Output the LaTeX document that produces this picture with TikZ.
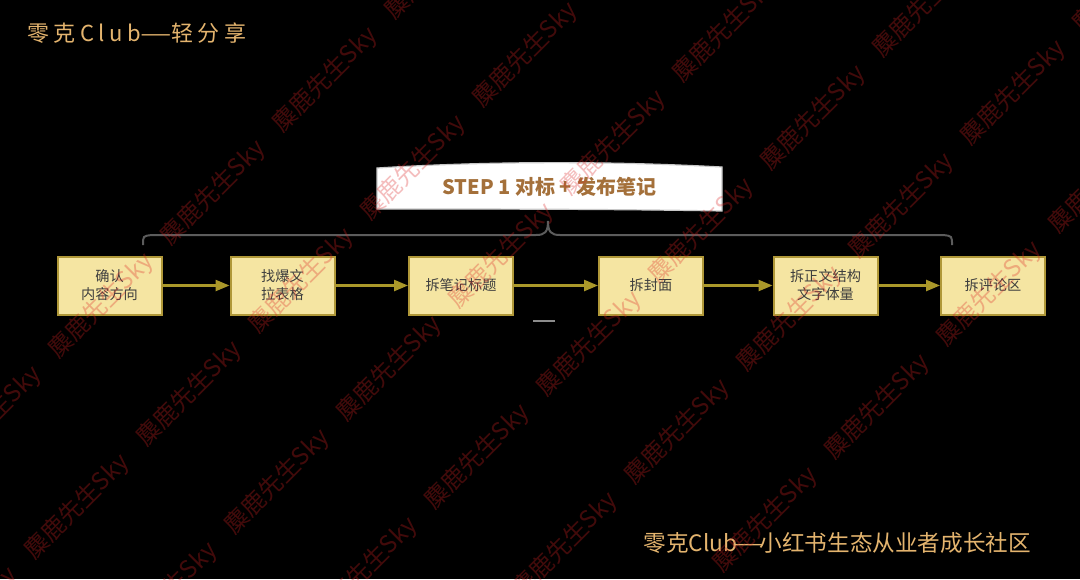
\documentclass[tikz,border=0pt]{standalone}
\usepackage{fontspec}
\setmainfont{Noto Sans CJK SC}
\newfontfamily\cjk{Noto Sans CJK SC}
\newfontfamily\cjkwide{Noto Sans CJK SC}[LetterSpace=20]
\usetikzlibrary{arrows.meta}
\definecolor{titlec}{RGB}{228,180,110}
\definecolor{boxfill}{RGB}{245,229,162}
\definecolor{boxline}{RGB}{176,152,56}
\definecolor{boxtext}{RGB}{62,62,62}
\definecolor{arrowc}{RGB}{170,152,42}
\definecolor{bannertext}{RGB}{164,112,58}
\definecolor{bannerline}{RGB}{200,200,200}
\definecolor{bracec}{RGB}{92,92,92}
\definecolor{dashc}{RGB}{140,140,140}
\definecolor{wmred}{RGB}{220,36,36}
\newcommand{\longdash}{\makebox[1em][c]{\scalebox{1.6}[1]{—}}}
\newcommand{\spaceddash}{\makebox[1.4em][c]{\scalebox{1.6}[1]{—}}}
\begin{document}
\begin{tikzpicture}[x=0.5pt,y=-0.5pt,
  stepbox/.style={draw=boxline, fill=boxfill, line width=1pt, minimum width=52pt,
    minimum height=29pt, inner sep=0pt, text=boxtext, align=center,
    font=\cjk\fontsize{7.1pt}{9pt}\selectfont},
  flow/.style={draw=arrowc, line width=1.2pt, -{Triangle[length=7pt,width=5.5pt]}},
  bracepath/.style={draw=bracec, line width=1pt},
  wm/.style={text=wmred, opacity=0.3, rotate=45, inner sep=0pt,
    font=\cjk\fontsize{12pt}{12pt}\selectfont}]
\fill[black] (0,0) rectangle (1080,579);
\useasboundingbox (0,0) rectangle (1080,579);

% titles
\node[anchor=west, text=titlec, inner sep=0pt, font=\cjkwide\fontsize{11pt}{13pt}\selectfont] (hdr) at (27,33) {零克Club\spaceddash 轻分享};
\node[anchor=west, text=titlec, inner sep=0pt, font=\cjk\fontsize{11.3pt}{13pt}\selectfont] (ftr) at (643,543) {零克Club\longdash 小红书生态从业者成长社区};

% banner
\path[fill=white, draw=bannerline, line width=0.6pt] (377,168) .. controls (490,161) and (610,161) .. (722,167) -- (722,211) .. controls (610,209) and (490,209) .. (377,209) -- cycle;
\node[text=bannertext, font=\cjk\bfseries\fontsize{10pt}{12pt}\selectfont] (stepone) at (549.5,187) {STEP 1 对标 + 发布笔记};

% brace
\path[bracepath] (143,245) .. controls (143,236) .. (152,235) -- (536,235) .. controls (545,235) and (548,232) .. (548,221) .. controls (548,232) and (551,235) .. (560,235) -- (943,235) .. controls (952,236) .. (952,245);

% boxes
\node[stepbox] (b1) at (109.5,285.5) {确认\\内容方向};
\node[stepbox] (b2) at (282.5,285.5) {找爆文\\拉表格};
\node[stepbox] (b3) at (461,285.5) {拆笔记标题};
\node[stepbox] (b4) at (651,285.5) {拆封面};
\node[stepbox] (b5) at (825.5,285.5) {拆正文结构\\文字体量};
\node[stepbox] (b6) at (993,285.5) {拆评论区};

\draw[flow] (b1) -- (b2);
\draw[flow] (b2) -- (b3);
\draw[flow] (b3) -- (b4);
\draw[flow] (b4) -- (b5);
\draw[flow] (b5) -- (b6);

% small dash
\draw[dashc, line width=0.8pt] (533,321) -- (555,321);

% watermarks
\begin{scope}
\clip (0,0) rectangle (1080,579);
\foreach \i in {-4,...,6}{
  \foreach \j in {-3,...,6}{
    \pgfmathsetmacro\cx{213+200*\i+88*\j}
    \pgfmathsetmacro\cy{193-25*\i+88*\j}
    \pgfmathtruncatemacro\ok{and(and(and(\cx>-60,\cx<1140),and(\cy>-50,\cy<630)),and(\cx+\cy>300,\cx+\cy<1370))}
    \pgfmathtruncatemacro\k{(\i+4)*10+(\j+3)}
    \ifnum\ok=1
      \node[wm] (wm\k) at (\cx,\cy) {麋鹿先生Sky};
    \fi
  }
}
\end{scope}
\end{tikzpicture}
\end{document}
